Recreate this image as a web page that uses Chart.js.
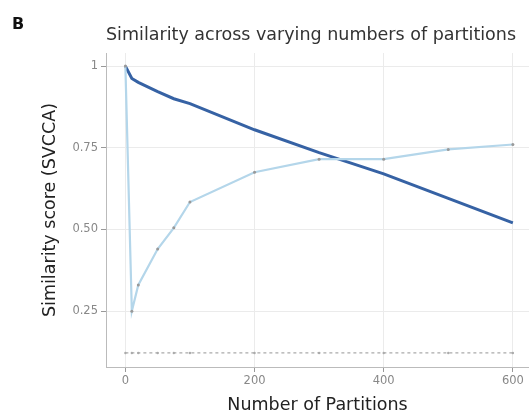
<!DOCTYPE html>
<html>
<head>
<meta charset="utf-8">
<script src="https://cdn.jsdelivr.net/npm/chart.js@4/dist/chart.umd.min.js"></script>
<style>
  html, body { margin: 0; padding: 0; background: #fff; overflow: hidden; }
  canvas { display: block; }
</style>
</head>
<body>
<canvas id="chart" width="529" height="412"></canvas>
<script>
// values
const partitions = [0, 10, 20, 50, 75, 100, 200, 300, 400, 500, 600];
const scoreDark = [1.0, 0.962, 0.95, 0.922, 0.9, 0.885, 0.805, 0.735, 0.67, 0.595, 0.52];
const scoreLight = [1.0, 0.25, 0.33, 0.44, 0.505, 0.584, 0.675, 0.715, 0.715, 0.745, 0.76];
const scoreBaseline = [0.122, 0.122, 0.122, 0.122, 0.122, 0.122, 0.122, 0.122, 0.122, 0.122, 0.122];
const xTicks = [0, 200, 400, 600];
const yTicks = [0.25, 0.5, 0.75, 1];
const yTickLabels = ['0.25', '0.50', '0.75', '1'];

const toPoints = (vals) => partitions.map((p, i) => ({ x: p, y: vals[i] }));

// panel letter in the corner
const panelLetter = {
  id: 'panelLetter',
  afterDraw(chart) {
    const ctx = chart.ctx;
    ctx.save();
    ctx.font = 'bold 16px "DejaVu Sans"';
    ctx.fillStyle = '#111';
    ctx.textBaseline = 'middle';
    ctx.fillText('B', 12, 25);
    ctx.restore();
  }
};

const canvas = document.getElementById('chart');
new Chart(canvas, {
  type: 'line',
  data: {
    datasets: [
      {
        label: 'baseline',
        data: toPoints(scoreBaseline),
        borderColor: '#aaa',
        borderWidth: 1.2,
        borderDash: [3, 3],
        pointRadius: 1.2,
        pointBackgroundColor: '#aaa',
        pointBorderWidth: 0,
      },
      {
        label: 'light',
        data: toPoints(scoreLight),
        borderColor: '#b4d6ea',
        borderWidth: 2.2,
        pointRadius: 1.5,
        pointBackgroundColor: '#999',
        pointBorderWidth: 0,
      },
      {
        label: 'dark',
        data: toPoints(scoreDark),
        borderColor: '#3662a4',
        borderWidth: 3,
        pointRadius: 0,
      },
    ],
  },
  options: {
    responsive: false,
    animation: false,
    layout: { padding: 0, autoPadding: false },
    plugins: {
      legend: { display: false },
      tooltip: { enabled: false },
      title: {
        display: true,
        fullSize: false,
        align: 'start',
        text: 'Similarity across varying numbers of partitions',
        color: '#333',
        font: { family: 'DejaVu Sans', size: 17.5, weight: 'normal' },
        padding: { top: 24.5, bottom: 7.5 },
      },
    },
    scales: {
      x: {
        type: 'linear',
        min: -30,
        max: 625,
        afterFit: (scale) => {
          scale.height = 45;
          scale.paddingLeft = 0;
          scale.paddingRight = 0;
        },
        afterBuildTicks: (scale) => { scale.ticks = xTicks.map(v => ({ value: v })); },
        grid: { color: '#ebebeb', lineWidth: 1, tickLength: 5, tickColor: '#999' },
        border: { color: '#bbb', width: 1 },
        ticks: {
          color: '#888',
          font: { family: 'DejaVu Sans', size: 11.5 },
          padding: 2,
          maxRotation: 0,
        },
        title: {
          display: true,
          text: 'Number of Partitions',
          color: '#222',
          font: { family: 'DejaVu Sans', size: 17.5 },
          padding: { top: 0, bottom: -4 },
        },
      },
      y: {
        min: 0.079,
        max: 1.04,
        afterFit: (scale) => { scale.width = 106; },
        afterBuildTicks: (scale) => { scale.ticks = yTicks.map(v => ({ value: v })); },
        grid: { color: '#ebebeb', lineWidth: 1, tickLength: 5, tickColor: '#999' },
        border: { color: '#bbb', width: 1 },
        ticks: {
          color: '#888',
          font: { family: 'DejaVu Sans', size: 11.5 },
          padding: 3,
          callback: (v) => yTickLabels[yTicks.indexOf(v)],
        },
        title: {
          display: true,
          text: 'Similarity score (SVCCA)',
          color: '#222',
          font: { family: 'DejaVu Sans', size: 17.5 },
          padding: { top: 40, bottom: 0 },
        },
      },
    },
  },
  plugins: [panelLetter],
});
</script>
</body>
</html>
